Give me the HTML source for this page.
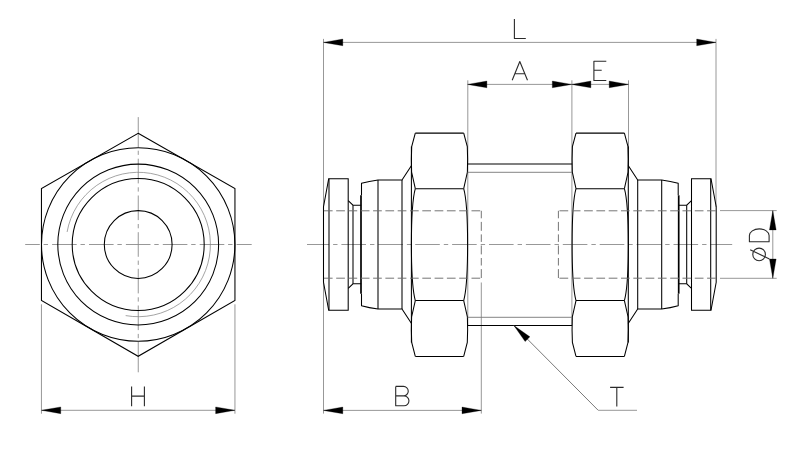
<!DOCTYPE html>
<html><head><meta charset="utf-8"><style>
html,body{margin:0;padding:0;background:#fff;}
body{width:811px;height:450px;overflow:hidden;font-family:"Liberation Sans",sans-serif;}
svg{display:block;}
</style></head><body>
<svg width="811" height="450" viewBox="0 0 811 450">
<rect width="811" height="450" fill="#fff"/>
<line x1="25.2" y1="244.5" x2="251.7" y2="244.5" stroke="#8c8c8c" stroke-width="0.9" stroke-dasharray="24.6 3.8 4.4 4.1" stroke-dashoffset="10"/>
<line x1="138.25" y1="117.1" x2="138.25" y2="147.3" stroke="#8c8c8c" stroke-width="0.9" />
<line x1="138.25" y1="150.7" x2="138.25" y2="154.9" stroke="#8c8c8c" stroke-width="0.9" />
<line x1="138.25" y1="158.7" x2="138.25" y2="183.4" stroke="#8c8c8c" stroke-width="0.9" />
<line x1="138.25" y1="187.3" x2="138.25" y2="191.6" stroke="#8c8c8c" stroke-width="0.9" />
<line x1="138.25" y1="195.5" x2="138.25" y2="220.1" stroke="#8c8c8c" stroke-width="0.9" />
<line x1="138.25" y1="224.0" x2="138.25" y2="228.3" stroke="#8c8c8c" stroke-width="0.9" />
<line x1="138.25" y1="232.2" x2="138.25" y2="256.8" stroke="#8c8c8c" stroke-width="0.9" />
<line x1="138.25" y1="260.6" x2="138.25" y2="264.9" stroke="#8c8c8c" stroke-width="0.9" />
<line x1="138.25" y1="268.8" x2="138.25" y2="293.4" stroke="#8c8c8c" stroke-width="0.9" />
<line x1="138.25" y1="297.3" x2="138.25" y2="301.6" stroke="#8c8c8c" stroke-width="0.9" />
<line x1="138.25" y1="305.5" x2="138.25" y2="330.1" stroke="#8c8c8c" stroke-width="0.9" />
<line x1="138.25" y1="333.9" x2="138.25" y2="338.2" stroke="#8c8c8c" stroke-width="0.9" />
<line x1="138.25" y1="342.0" x2="138.25" y2="372.3" stroke="#8c8c8c" stroke-width="0.9" />
<polygon points="138.15,133.30 234.95,188.45 234.95,300.45 138.15,356.30 41.45,300.45 41.45,188.45" fill="none" stroke="#000" stroke-width="1.05" stroke-linejoin="miter"/>
<circle cx="138.2" cy="244.5" r="96.7" fill="none" stroke="#000" stroke-width="1.05"/>
<circle cx="138.2" cy="244.5" r="80.4" fill="none" stroke="#000" stroke-width="1.05"/>
<circle cx="138.2" cy="244.5" r="66.0" fill="none" stroke="#000" stroke-width="1.05"/>
<circle cx="138.2" cy="244.5" r="33.9" fill="none" stroke="#000" stroke-width="1.05"/>
<path d="M125.66,315.60 A72.2,72.2 0 1 0 67.10,231.96" fill="none" stroke="#858585" stroke-width="0.75" />
<line x1="41.45" y1="304.3" x2="41.45" y2="413.7" stroke="#8c8c8c" stroke-width="0.9" />
<line x1="234.95" y1="304.3" x2="234.95" y2="413.7" stroke="#8c8c8c" stroke-width="0.9" />
<line x1="41.45" y1="410.3" x2="234.95" y2="410.3" stroke="#8c8c8c" stroke-width="0.9" />
<path d="M41.45,410.30 L60.75,406.95 L60.75,413.65 Z" fill="#000" stroke="#000" stroke-width="0.3"/>
<path d="M234.95,410.30 L215.65,413.65 L215.65,406.95 Z" fill="#000" stroke="#000" stroke-width="0.3"/>
<line x1="323.5" y1="38.9" x2="323.5" y2="413.6" stroke="#8c8c8c" stroke-width="0.9" />
<line x1="716.0" y1="38.9" x2="716.0" y2="207" stroke="#8c8c8c" stroke-width="0.9" />
<line x1="323.5" y1="42.4" x2="716.0" y2="42.4" stroke="#8c8c8c" stroke-width="0.9" />
<line x1="467.8" y1="80.3" x2="467.8" y2="164.0" stroke="#8c8c8c" stroke-width="0.9" />
<line x1="571.9" y1="80.3" x2="571.9" y2="164.0" stroke="#8c8c8c" stroke-width="0.9" />
<line x1="628.5" y1="80.3" x2="628.5" y2="149" stroke="#8c8c8c" stroke-width="0.9" />
<line x1="467.6" y1="84.4" x2="628.5" y2="84.4" stroke="#8c8c8c" stroke-width="0.9" />
<line x1="481.3" y1="282.5" x2="481.3" y2="413.6" stroke="#8c8c8c" stroke-width="0.9" />
<line x1="323.5" y1="410.4" x2="481.3" y2="410.4" stroke="#8c8c8c" stroke-width="0.9" />
<line x1="720" y1="210.6" x2="776.7" y2="210.6" stroke="#8c8c8c" stroke-width="0.9" />
<line x1="720" y1="278.3" x2="776.7" y2="278.3" stroke="#8c8c8c" stroke-width="0.9" />
<line x1="772.8" y1="210.6" x2="772.8" y2="278.3" stroke="#8c8c8c" stroke-width="0.9" />
<line x1="307" y1="244.5" x2="732.2" y2="244.5" stroke="#8c8c8c" stroke-width="0.9" stroke-dasharray="24.6 4 4.4 3.9" stroke-dashoffset="2.50"/>
<g>
<path d="M328.7,178.7 L348.2,178.7 L348.2,310.3 L328.7,310.3 L323.5,282.3 L323.5,206.7 Z" fill="none" stroke="#000" stroke-width="1.05" />
<line x1="329.0" y1="178.7" x2="329.0" y2="310.3" stroke="#000" stroke-width="1.05" />
<path d="M348.2,200.7 L353,205.2 L361.2,205.2" fill="none" stroke="#000" stroke-width="1.05" />
<path d="M348.2,288.3 L353,283.8 L361.2,283.8" fill="none" stroke="#000" stroke-width="1.05" />
<line x1="353" y1="205.2" x2="353" y2="283.8" stroke="#000" stroke-width="1.05" />
<line x1="361.0" y1="195.3" x2="361.0" y2="293.7" stroke="#000" stroke-width="1.7" />
<path d="M361.5,195.3 L361.5,183.3 Q369,181.2 378,180 L402,180 L411.5,165.5" fill="none" stroke="#000" stroke-width="1.05" />
<path d="M361.5,293.7 L361.5,305.7 Q369,307.8 378,309 L402,309 L411.5,323.5" fill="none" stroke="#000" stroke-width="1.05" />
<line x1="378" y1="180" x2="378" y2="309" stroke="#000" stroke-width="1.05" />
<line x1="402" y1="180" x2="402" y2="309" stroke="#000" stroke-width="1.05" />
<line x1="411.4" y1="146.5" x2="411.4" y2="342.5" stroke="#000" stroke-width="1.05" />
<line x1="467.8" y1="164.0" x2="467.8" y2="325.4" stroke="#8c8c8c" stroke-width="0.9" />
<line x1="415.3" y1="133.1" x2="463.7" y2="133.1" stroke="#000" stroke-width="1.05" />
<line x1="415.3" y1="188.65" x2="463.7" y2="188.65" stroke="#000" stroke-width="1.05" />
<line x1="415.3" y1="300.55" x2="463.7" y2="300.55" stroke="#000" stroke-width="1.05" />
<line x1="415.3" y1="356.45" x2="463.7" y2="356.45" stroke="#000" stroke-width="1.05" />
<path d="M415.3,133.1 L411.7,146.5 Q411.1,159 411.6,172 L415.3,188.65" fill="none" stroke="#000" stroke-width="1.05" />
<path d="M415.3,356.45 L411.7,342.5 Q411.1,330 411.6,317 L415.3,300.55" fill="none" stroke="#000" stroke-width="1.05" />
<path d="M415.3,188.65 C410.1,207 410.1,282 415.3,300.55" fill="none" stroke="#000" stroke-width="1.05" />
<path d="M463.7,133.1 L467.3,146.5 Q467.9,159 467.4,172 L463.7,188.65" fill="none" stroke="#000" stroke-width="1.05" />
<path d="M463.7,356.45 L467.3,342.5 Q467.9,330 467.4,317 L463.7,300.55" fill="none" stroke="#000" stroke-width="1.05" />
<path d="M463.7,188.65 C468.9,207 468.9,282 463.7,300.55" fill="none" stroke="#000" stroke-width="1.05" />
<path d="M323.5,210.8 L481.3,210.8" stroke="#6e6e6e" stroke-width="0.95" fill="none" stroke-dasharray="8.7 3.6" stroke-dashoffset="-0.4"/>
<path d="M323.5,278.2 L481.3,278.2" stroke="#6e6e6e" stroke-width="0.95" fill="none" stroke-dasharray="8.7 3.6" stroke-dashoffset="-0.4"/>
<path d="M481.3,210.8 L481.3,278.2" stroke="#6e6e6e" stroke-width="0.95" fill="none" stroke-dasharray="7.5 3.6 8.9 3.6"/>
</g>
<g transform="translate(1039.7,0) scale(-1,1)">
<path d="M328.7,178.7 L348.2,178.7 L348.2,310.3 L328.7,310.3 L323.5,282.3 L323.5,206.7 Z" fill="none" stroke="#000" stroke-width="1.05" />
<line x1="329.0" y1="178.7" x2="329.0" y2="310.3" stroke="#000" stroke-width="1.05" />
<path d="M348.2,200.7 L353,205.2 L361.2,205.2" fill="none" stroke="#000" stroke-width="1.05" />
<path d="M348.2,288.3 L353,283.8 L361.2,283.8" fill="none" stroke="#000" stroke-width="1.05" />
<line x1="353" y1="205.2" x2="353" y2="283.8" stroke="#000" stroke-width="1.05" />
<line x1="361.0" y1="195.3" x2="361.0" y2="293.7" stroke="#000" stroke-width="1.7" />
<path d="M361.5,195.3 L361.5,183.3 Q369,181.2 378,180 L402,180 L411.5,165.5" fill="none" stroke="#000" stroke-width="1.05" />
<path d="M361.5,293.7 L361.5,305.7 Q369,307.8 378,309 L402,309 L411.5,323.5" fill="none" stroke="#000" stroke-width="1.05" />
<line x1="378" y1="180" x2="378" y2="309" stroke="#000" stroke-width="1.05" />
<line x1="402" y1="180" x2="402" y2="309" stroke="#000" stroke-width="1.05" />
<line x1="411.4" y1="146.5" x2="411.4" y2="342.5" stroke="#000" stroke-width="1.05" />
<line x1="467.8" y1="164.0" x2="467.8" y2="325.4" stroke="#8c8c8c" stroke-width="0.9" />
<line x1="415.3" y1="133.1" x2="463.7" y2="133.1" stroke="#000" stroke-width="1.05" />
<line x1="415.3" y1="188.65" x2="463.7" y2="188.65" stroke="#000" stroke-width="1.05" />
<line x1="415.3" y1="300.55" x2="463.7" y2="300.55" stroke="#000" stroke-width="1.05" />
<line x1="415.3" y1="356.45" x2="463.7" y2="356.45" stroke="#000" stroke-width="1.05" />
<path d="M415.3,133.1 L411.7,146.5 Q411.1,159 411.6,172 L415.3,188.65" fill="none" stroke="#000" stroke-width="1.05" />
<path d="M415.3,356.45 L411.7,342.5 Q411.1,330 411.6,317 L415.3,300.55" fill="none" stroke="#000" stroke-width="1.05" />
<path d="M415.3,188.65 C410.1,207 410.1,282 415.3,300.55" fill="none" stroke="#000" stroke-width="1.05" />
<path d="M463.7,133.1 L467.3,146.5 Q467.9,159 467.4,172 L463.7,188.65" fill="none" stroke="#000" stroke-width="1.05" />
<path d="M463.7,356.45 L467.3,342.5 Q467.9,330 467.4,317 L463.7,300.55" fill="none" stroke="#000" stroke-width="1.05" />
<path d="M463.7,188.65 C468.9,207 468.9,282 463.7,300.55" fill="none" stroke="#000" stroke-width="1.05" />
<path d="M323.5,210.8 L481.3,210.8" stroke="#6e6e6e" stroke-width="0.95" fill="none" stroke-dasharray="8.7 3.6" stroke-dashoffset="-0.4"/>
<path d="M323.5,278.2 L481.3,278.2" stroke="#6e6e6e" stroke-width="0.95" fill="none" stroke-dasharray="8.7 3.6" stroke-dashoffset="-0.4"/>
<path d="M481.3,210.8 L481.3,278.2" stroke="#6e6e6e" stroke-width="0.95" fill="none" stroke-dasharray="7.5 3.6 8.9 3.6"/>
</g>
<line x1="467.6" y1="164.0" x2="572.1" y2="164.0" stroke="#000" stroke-width="1.05" />
<line x1="467.6" y1="325.4" x2="572.1" y2="325.4" stroke="#000" stroke-width="1.05" />
<line x1="467.6" y1="172.3" x2="572.1" y2="172.3" stroke="#777" stroke-width="0.9" />
<line x1="467.6" y1="317.3" x2="572.1" y2="317.3" stroke="#777" stroke-width="0.9" />
<line x1="513.9" y1="325.5" x2="598.2" y2="410.3" stroke="#6a6a6a" stroke-width="0.9" />
<line x1="598.2" y1="410.3" x2="637" y2="410.3" stroke="#8c8c8c" stroke-width="0.9" />
<path d="M513.90,325.50 L529.88,336.83 L525.13,341.55 Z" fill="#000" stroke="#000" stroke-width="0.3"/>
<path d="M323.50,42.40 L342.80,39.05 L342.80,45.75 Z" fill="#000" stroke="#000" stroke-width="0.3"/>
<path d="M716.00,42.40 L696.70,45.75 L696.70,39.05 Z" fill="#000" stroke="#000" stroke-width="0.3"/>
<path d="M467.60,84.40 L486.90,81.05 L486.90,87.75 Z" fill="#000" stroke="#000" stroke-width="0.3"/>
<path d="M571.60,84.40 L552.30,87.75 L552.30,81.05 Z" fill="#000" stroke="#000" stroke-width="0.3"/>
<path d="M571.60,84.40 L590.90,81.05 L590.90,87.75 Z" fill="#000" stroke="#000" stroke-width="0.3"/>
<path d="M628.50,84.40 L609.20,87.75 L609.20,81.05 Z" fill="#000" stroke="#000" stroke-width="0.3"/>
<path d="M323.50,410.40 L342.80,407.05 L342.80,413.75 Z" fill="#000" stroke="#000" stroke-width="0.3"/>
<path d="M481.30,410.40 L462.00,413.75 L462.00,407.05 Z" fill="#000" stroke="#000" stroke-width="0.3"/>
<path d="M772.80,210.60 L776.15,229.90 L769.45,229.90 Z" fill="#000" stroke="#000" stroke-width="0.3"/>
<path d="M772.80,278.30 L769.45,259.00 L776.15,259.00 Z" fill="#000" stroke="#000" stroke-width="0.3"/>
<path d="M514.4,18.9 L514.4,38.5 L525.8,38.5" fill="none" stroke="#2a2a2a" stroke-width="1.1" stroke-linecap="butt" stroke-linejoin="round"/>
<path d="M512.2,80.3 L519.8,61.5 L527.5,80.3 M515.1,73.8 L524.8,73.8" fill="none" stroke="#2a2a2a" stroke-width="1.1" stroke-linecap="butt" stroke-linejoin="round"/>
<path d="M606.3,61.2 L593.9,61.2 L593.9,80.5 L606.3,80.5 M593.9,70.3 L601.7,70.3" fill="none" stroke="#2a2a2a" stroke-width="1.1" stroke-linecap="butt" stroke-linejoin="round"/>
<path d="M131.6,386.4 L131.6,406.3 M144.4,386.4 L144.4,406.3 M131.6,396.1 L144.4,396.1" fill="none" stroke="#2a2a2a" stroke-width="1.1" stroke-linecap="butt" stroke-linejoin="round"/>
<path d="M395.7,386.4 L395.7,405.8 L404,405.8 A4.95,4.95 0 0 0 404,395.9 L395.7,395.9 M403.5,395.9 A4.75,4.75 0 0 0 403.5,386.4 L395.7,386.4" fill="none" stroke="#2a2a2a" stroke-width="1.1" stroke-linecap="butt" stroke-linejoin="round"/>
<path d="M610.1,387.4 L623.6,387.4 M616.8,387.4 L616.8,406.6" fill="none" stroke="#2a2a2a" stroke-width="1.1" stroke-linecap="butt" stroke-linejoin="round"/>
<path d="M749.4,241.7 L769.1,241.7 L769.1,235.6 A9.85,6.7 0 0 0 749.4,235.6 Z" fill="none" stroke="#2a2a2a" stroke-width="1.1" stroke-linecap="butt" stroke-linejoin="round"/>
<circle cx="759.1" cy="254.4" r="6.3" fill="none" stroke="#2a2a2a" stroke-width="1.1"/>
<path d="M750.2,249.8 L769.4,258.9" fill="none" stroke="#2a2a2a" stroke-width="1.1" stroke-linecap="butt" stroke-linejoin="round"/>
</svg>
</body></html>
